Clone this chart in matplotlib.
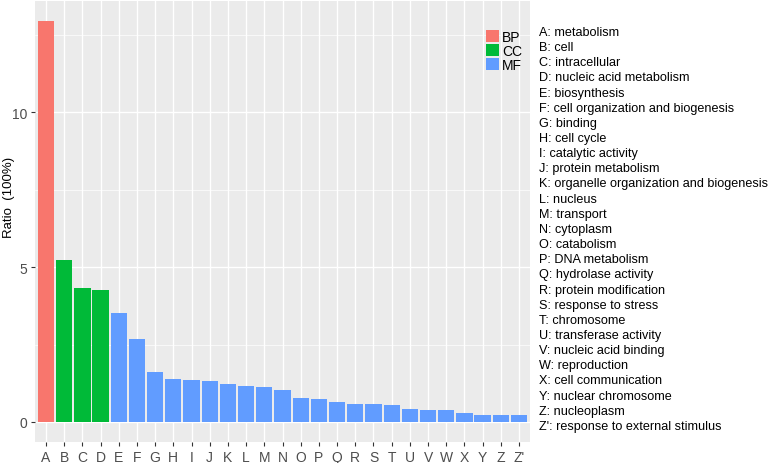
import matplotlib
matplotlib.use("Agg")
import matplotlib.pyplot as plt
from matplotlib.patches import Patch

categories = ["A", "B", "C", "D", "E", "F", "G", "H", "I", "J", "K", "L", "M", "N",
              "O", "P", "Q", "R", "S", "T", "U", "V", "W", "X", "Y", "Z", "Z'"]
values = [12.95, 5.24, 4.34, 4.26, 3.51, 2.68, 1.62, 1.38, 1.35, 1.32, 1.22, 1.16, 1.13,
          1.02, 0.77, 0.74, 0.64, 0.59, 0.57, 0.54, 0.43, 0.39, 0.38, 0.29, 0.24, 0.22, 0.22]
groups = ["BP", "CC", "CC", "CC"] + ["MF"] * 23
descriptions = [
    "metabolism", "cell", "intracellular", "nucleic acid metabolism", "biosynthesis",
    "cell organization and biogenesis", "binding", "cell cycle", "catalytic activity",
    "protein metabolism", "organelle organization and biogenesis", "nucleus", "transport",
    "cytoplasm", "catabolism", "DNA metabolism", "hydrolase activity", "protein modification",
    "response to stress", "chromosome", "transferase activity", "nucleic acid binding",
    "reproduction", "cell communication", "nuclear chromosome", "nucleoplasm",
    "response to external stimulus",
]
group_colors = {"BP": "#F8766D", "CC": "#00BA38", "MF": "#619CFF"}

plt.rcParams['font.family'] = ['Liberation Sans', 'DejaVu Sans']

fig = plt.figure(figsize=(7.71, 4.64), dpi=100)
W, H = 771, 464
ax = fig.add_axes([35 / W, 1 - 443 / H, (530 - 35) / W, (443 - 2) / H])
ax.set_facecolor("#EBEBEB")

x = list(range(1, len(categories) + 1))
ax.bar(x, values, width=0.9, color=[group_colors[g] for g in groups], zorder=3)

ymax = max(values)
ax.set_ylim(-0.05 * ymax, ymax * 1.05)
ax.set_xlim(0.4, len(categories) + 0.6)

ax.set_yticks([0, 5, 10])
ax.set_yticks([2.5, 7.5, 12.5], minor=True)
ax.set_xticks(x)
ax.set_xticklabels(categories)
ax.grid(which="major", color="white", linewidth=1.0, zorder=0)
ax.grid(which="minor", axis="y", color="white", linewidth=0.5, zorder=0)
ax.set_axisbelow(True)
for s in ax.spines.values():
    s.set_visible(False)
ax.tick_params(axis="both", which="major", length=3, color="#333333", labelsize=10,
               labelcolor="#4D4D4D", width=0.8, pad=2.5)
ax.tick_params(axis="both", which="minor", length=0)
ax.set_ylabel("Ratio  (100%)", fontsize=9.5, color="black")
ax.yaxis.set_label_coords((15 - 35) / 495, (443 - 197) / 441)

handles = [Patch(facecolor=group_colors[g], label=g) for g in ["BP", "CC", "MF"]]
leg = fig.legend(handles=handles, loc="upper left", bbox_to_anchor=(486 / W, 1 - 31 / H),
                 frameon=False, fontsize=10, handlelength=0.9, handleheight=0.95,
                 handletextpad=0.25, labelspacing=0.0, borderpad=0, borderaxespad=0)

for i, (c, d) in enumerate(zip(categories, descriptions)):
    ypix = 33 + i * 15.15
    fig.text(539 / W, 1 - ypix / H, f"{c}: {d}", fontsize=9.1, va="center", ha="left",
             color="black")

fig.savefig("out.png", dpi=100)
